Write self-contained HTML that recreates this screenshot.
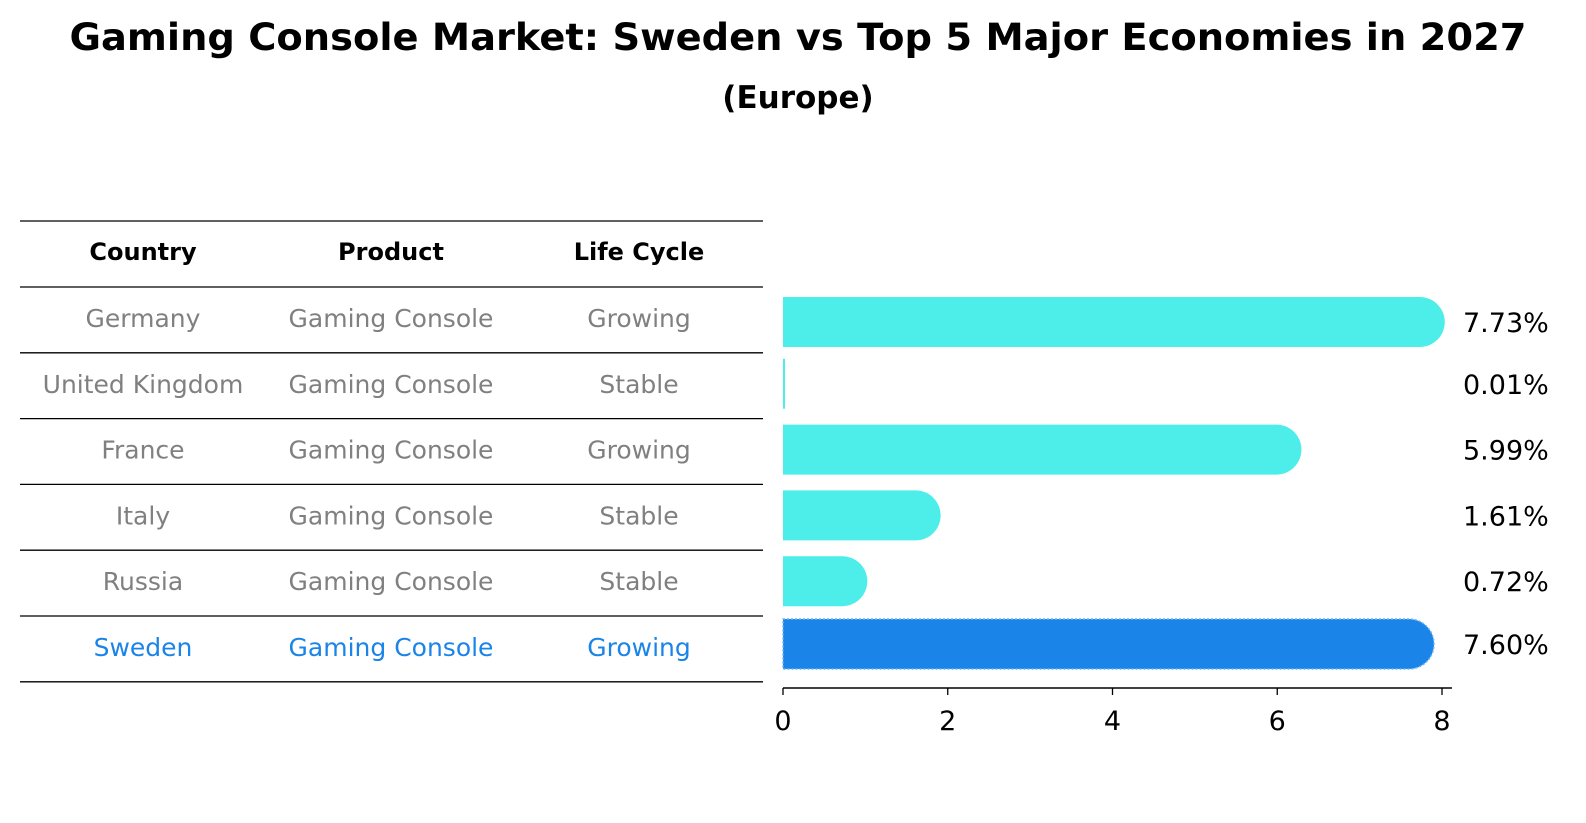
<!DOCTYPE html>
<html><head><meta charset="utf-8">
<style>
html,body{margin:0;padding:0;background:#fff;overflow:hidden;width:1586px;height:823px;}
svg{display:block;}
svg text{font-family:"DejaVu Sans","Liberation Sans",sans-serif;}
</style></head>
<body>
<svg id="chart" width="1586" height="823" viewBox="0 0 1586 823" xmlns="http://www.w3.org/2000/svg">
<text x="798" y="50" text-anchor="middle" font-size="37" font-weight="bold" textLength="1457" lengthAdjust="spacingAndGlyphs">Gaming Console Market: Sweden vs Top 5 Major Economies in 2027</text>
<text x="798" y="108" text-anchor="middle" font-size="31" font-weight="bold">(Europe)</text>
<g id="table"></g>
<g id="bars"></g>
<g id="axis"></g>
</svg>
<script>
const countries=["Germany","United Kingdom","France","Italy","Russia","Sweden"];
const products=["Gaming Console","Gaming Console","Gaming Console","Gaming Console","Gaming Console","Gaming Console"];
const lifeCycles=["Growing","Stable","Growing","Stable","Stable","Growing"];
const values=[7.73,0.01,5.99,1.61,0.72,7.60];
const valueLabels=["7.73%","0.01%","5.99%","1.61%","0.72%","7.60%"];
const ticks=[0,2,4,6,8];

const NS="http://www.w3.org/2000/svg";
function mk(tag,attrs,parent){const e=document.createElementNS(NS,tag);for(const k in attrs)e.setAttribute(k,attrs[k]);parent.appendChild(e);return e;}
const x0=783,pxPer=(1442-783)/8;
const xs=v=>x0+v*pxPer;
const rowY=i=>318+i*65.8;
const table=document.getElementById('table'),bars=document.getElementById('bars'),axis=document.getElementById('axis');
const colX=[143,391,639];
["Country","Product","Life Cycle"].forEach((h,j)=>{
  const t=mk('text',{x:colX[j],y:260,'text-anchor':'middle','font-size':24,'font-weight':'bold'},table);
  t.textContent=h;
  
  
});
const lineYs=[221,287];
for(let i=0;i<6;i++)lineYs.push(287+(i+1)*65.8);
lineYs.forEach((y,i)=>{
  const l=mk('line',{x1:20,x2:763,y1:y,y2:y,stroke:'#000','stroke-width':1.3},table);
  
  
});
countries.forEach((c,i)=>{
  const col=i===5?'#1a84e8':'#808080';
  [c,products[i],lifeCycles[i]].forEach((txt,j)=>{
    const t=mk('text',{x:colX[j],y:rowY(i)+9,'text-anchor':'middle','font-size':25,fill:col},table);
    t.textContent=txt;
    
    
  });
  const v=values[i],h=50,r=25,cy=rowY(i)+(i===0?4:(i===5?-3:0));
  const xe=xs(v);
  const color=i===5?'#1a84e8':'#4deee9';
  let d;
  if(v<0.05){d=`M${x0} ${cy-h/2} h2 v${h} h-2 Z`;}
  else d=`M${x0} ${cy-h/2} H${xe} A${r} ${r} 0 0 1 ${xe} ${cy+h/2} H${x0} Z`;
  const p=mk('path',{d:d,fill:color},bars);
  if(i===5){p.setAttribute('stroke','#6fb6f5');p.setAttribute('stroke-dasharray','2 2');p.setAttribute('stroke-width','1.5');}
  
  
  const lt=mk('text',{x:1463,y:cy+10,'font-size':27},bars);
  lt.textContent=valueLabels[i];
  
  
});
const al=mk('line',{x1:x0,x2:1452,y1:688,y2:688,stroke:'#000','stroke-width':1.5},axis);


ticks.forEach(tv=>{
  const tl=mk('line',{x1:xs(tv),x2:xs(tv),y1:688,y2:695,stroke:'#000','stroke-width':1.3},axis);
  
  
  const tt=mk('text',{x:xs(tv),y:730,'text-anchor':'middle','font-size':27},axis);
  tt.textContent=tv;
  
  
});
</script>
</body></html>
